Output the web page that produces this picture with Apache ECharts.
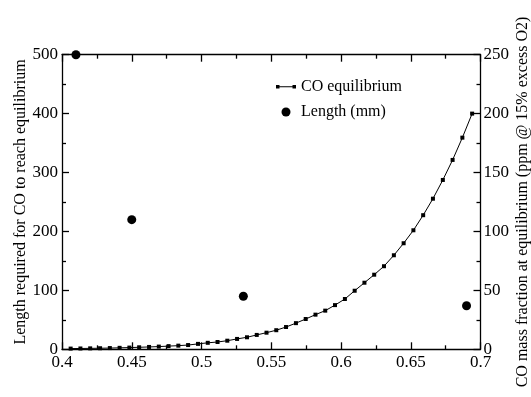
<!DOCTYPE html>
<html>
<head>
<meta charset="utf-8">
<script src="https://cdn.jsdelivr.net/npm/echarts@6/dist/echarts.min.js"></script>
<style>
  html, body { margin: 0; padding: 0; background: #fff; }
  #chart { width: 531px; height: 397px; }
</style>
</head>
<body>
<div id="chart"></div>
<script>
var myChart = echarts.init(document.getElementById('chart'));

// CO equilibrium curve (right axis, ppm)
var coX = [0.4062, 0.4132, 0.4202, 0.4273, 0.4343, 0.4413, 0.4483, 0.4553, 0.4624, 0.4694,
  0.4764, 0.4834, 0.4904, 0.4975, 0.5045, 0.5115, 0.5185, 0.5255, 0.5326, 0.5396,
  0.5466, 0.5536, 0.5606, 0.5677, 0.5747, 0.5817, 0.5887, 0.5957, 0.6028, 0.6098,
  0.6168, 0.6238, 0.6308, 0.6379, 0.6449, 0.6519, 0.6589, 0.6659, 0.6730, 0.6800,
  0.6870, 0.6940];
var coPpm = [0.6, 0.7, 0.8, 0.9, 1.05, 1.25, 1.45, 1.7, 2.0, 2.3,
  2.7, 3.1, 3.6, 4.6, 5.5, 6.2, 7.3, 8.8, 10.2, 12.2,
  14.1, 16.2, 18.9, 22.2, 25.7, 29.4, 32.8, 37.5, 42.7, 49.7,
  56.5, 63.3, 70.5, 79.8, 90.0, 101.0, 113.8, 127.8, 143.7, 160.7,
  179.6, 200.0];

// Length to reach equilibrium (left axis, mm)
var lenX = [0.41, 0.45, 0.53, 0.69];
var lenMm = [500, 220, 90, 74];

var xTicks = { min: 0.4, max: 0.7, interval: 0.05 };
var leftTicks = { min: 0, max: 500, interval: 100 };
var rightTicks = { min: 0, max: 250, interval: 50 };

var font = 'Liberation Serif';

function pairs(xs, ys) {
  var out = [];
  for (var i = 0; i < xs.length; i++) {
    out.push([xs[i], ys[i]]);
  }
  return out;
}

function axisBase(extra) {
  var a = {
    type: 'value',
    axisLine: { show: true, onZero: false, lineStyle: { color: '#000', width: 1.3 } },
    axisTick: { show: true, inside: true, length: 7, lineStyle: { color: '#000', width: 1.3 } },
    minorTick: { show: true, splitNumber: 2, length: 4, lineStyle: { color: '#000', width: 1.3 } },
    splitLine: { show: false },
    minorSplitLine: { show: false },
    axisLabel: { color: '#000', fontFamily: font, fontSize: 17 },
    nameMoveOverlap: false,
    nameTextStyle: { color: '#000', fontFamily: font, fontSize: 16 }
  };
  for (var k in extra) a[k] = extra[k];
  return a;
}

var option = {
  animation: false,
  backgroundColor: '#fff',
  grid: { left: 62, right: 50.5, top: 54.7, bottom: 47.7, outerBoundsMode: 'none', containLabel: false },
  legend: {
    orient: 'vertical',
    left: 271,
    top: 74,
    itemWidth: 20,
    itemHeight: 9,
    itemGap: 9,
    textStyle: { color: '#000', fontFamily: font, fontSize: 16 },
    data: [
      { name: 'CO equilibrium', icon: 'path://M0,0M20,9M0,2.5h3.5v3.5h-3.5zM3.5,3.8h13v1h-13zM16.5,2.5h3.5v3.5h-3.5z' },
      { name: 'Length (mm)', icon: 'circle' }
    ]
  },
  xAxis: [
    axisBase({
      min: xTicks.min, max: xTicks.max, interval: xTicks.interval,
      position: 'bottom',
      axisLabel: {
        color: '#000', fontFamily: font, fontSize: 17, margin: 5,
        formatter: function(v) { return String(+v.toFixed(2)); }
      }
    }),
    axisBase({
      min: xTicks.min, max: xTicks.max, interval: xTicks.interval,
      position: 'top',
      axisLabel: { show: false }
    })
  ],
  yAxis: [
    axisBase({
      min: leftTicks.min, max: leftTicks.max, interval: leftTicks.interval,
      position: 'left',
      name: 'Length required for CO to reach equilibrium',
      nameLocation: 'middle',
      nameRotate: 90,
      nameGap: 33,
      axisLabel: { color: '#000', fontFamily: font, fontSize: 17, margin: 4 }
    }),
    axisBase({
      min: rightTicks.min, max: rightTicks.max, interval: rightTicks.interval,
      position: 'right',
      name: 'CO mass fraction at equilibrium (ppm @ 15% excess O2)',
      nameLocation: 'middle',
      nameRotate: 90,
      nameGap: 34,
      axisLabel: { color: '#000', fontFamily: font, fontSize: 17, margin: 3 }
    })
  ],
  series: [
    {
      name: 'CO equilibrium',
      type: 'line',
      xAxisIndex: 0,
      yAxisIndex: 1,
      data: pairs(coX, coPpm),
      symbol: 'rect',
      symbolSize: 4,
      showAllSymbol: true,
      lineStyle: { color: '#000', width: 1 },
      itemStyle: { color: '#000' },
      z: 3
    },
    {
      name: 'Length (mm)',
      type: 'scatter',
      xAxisIndex: 0,
      yAxisIndex: 0,
      data: pairs(lenX, lenMm),
      symbol: 'circle',
      symbolSize: 9,
      itemStyle: { color: '#000', opacity: 1 },
      z: 4
    }
  ]
};

myChart.setOption(option);
</script>
</body>
</html>
